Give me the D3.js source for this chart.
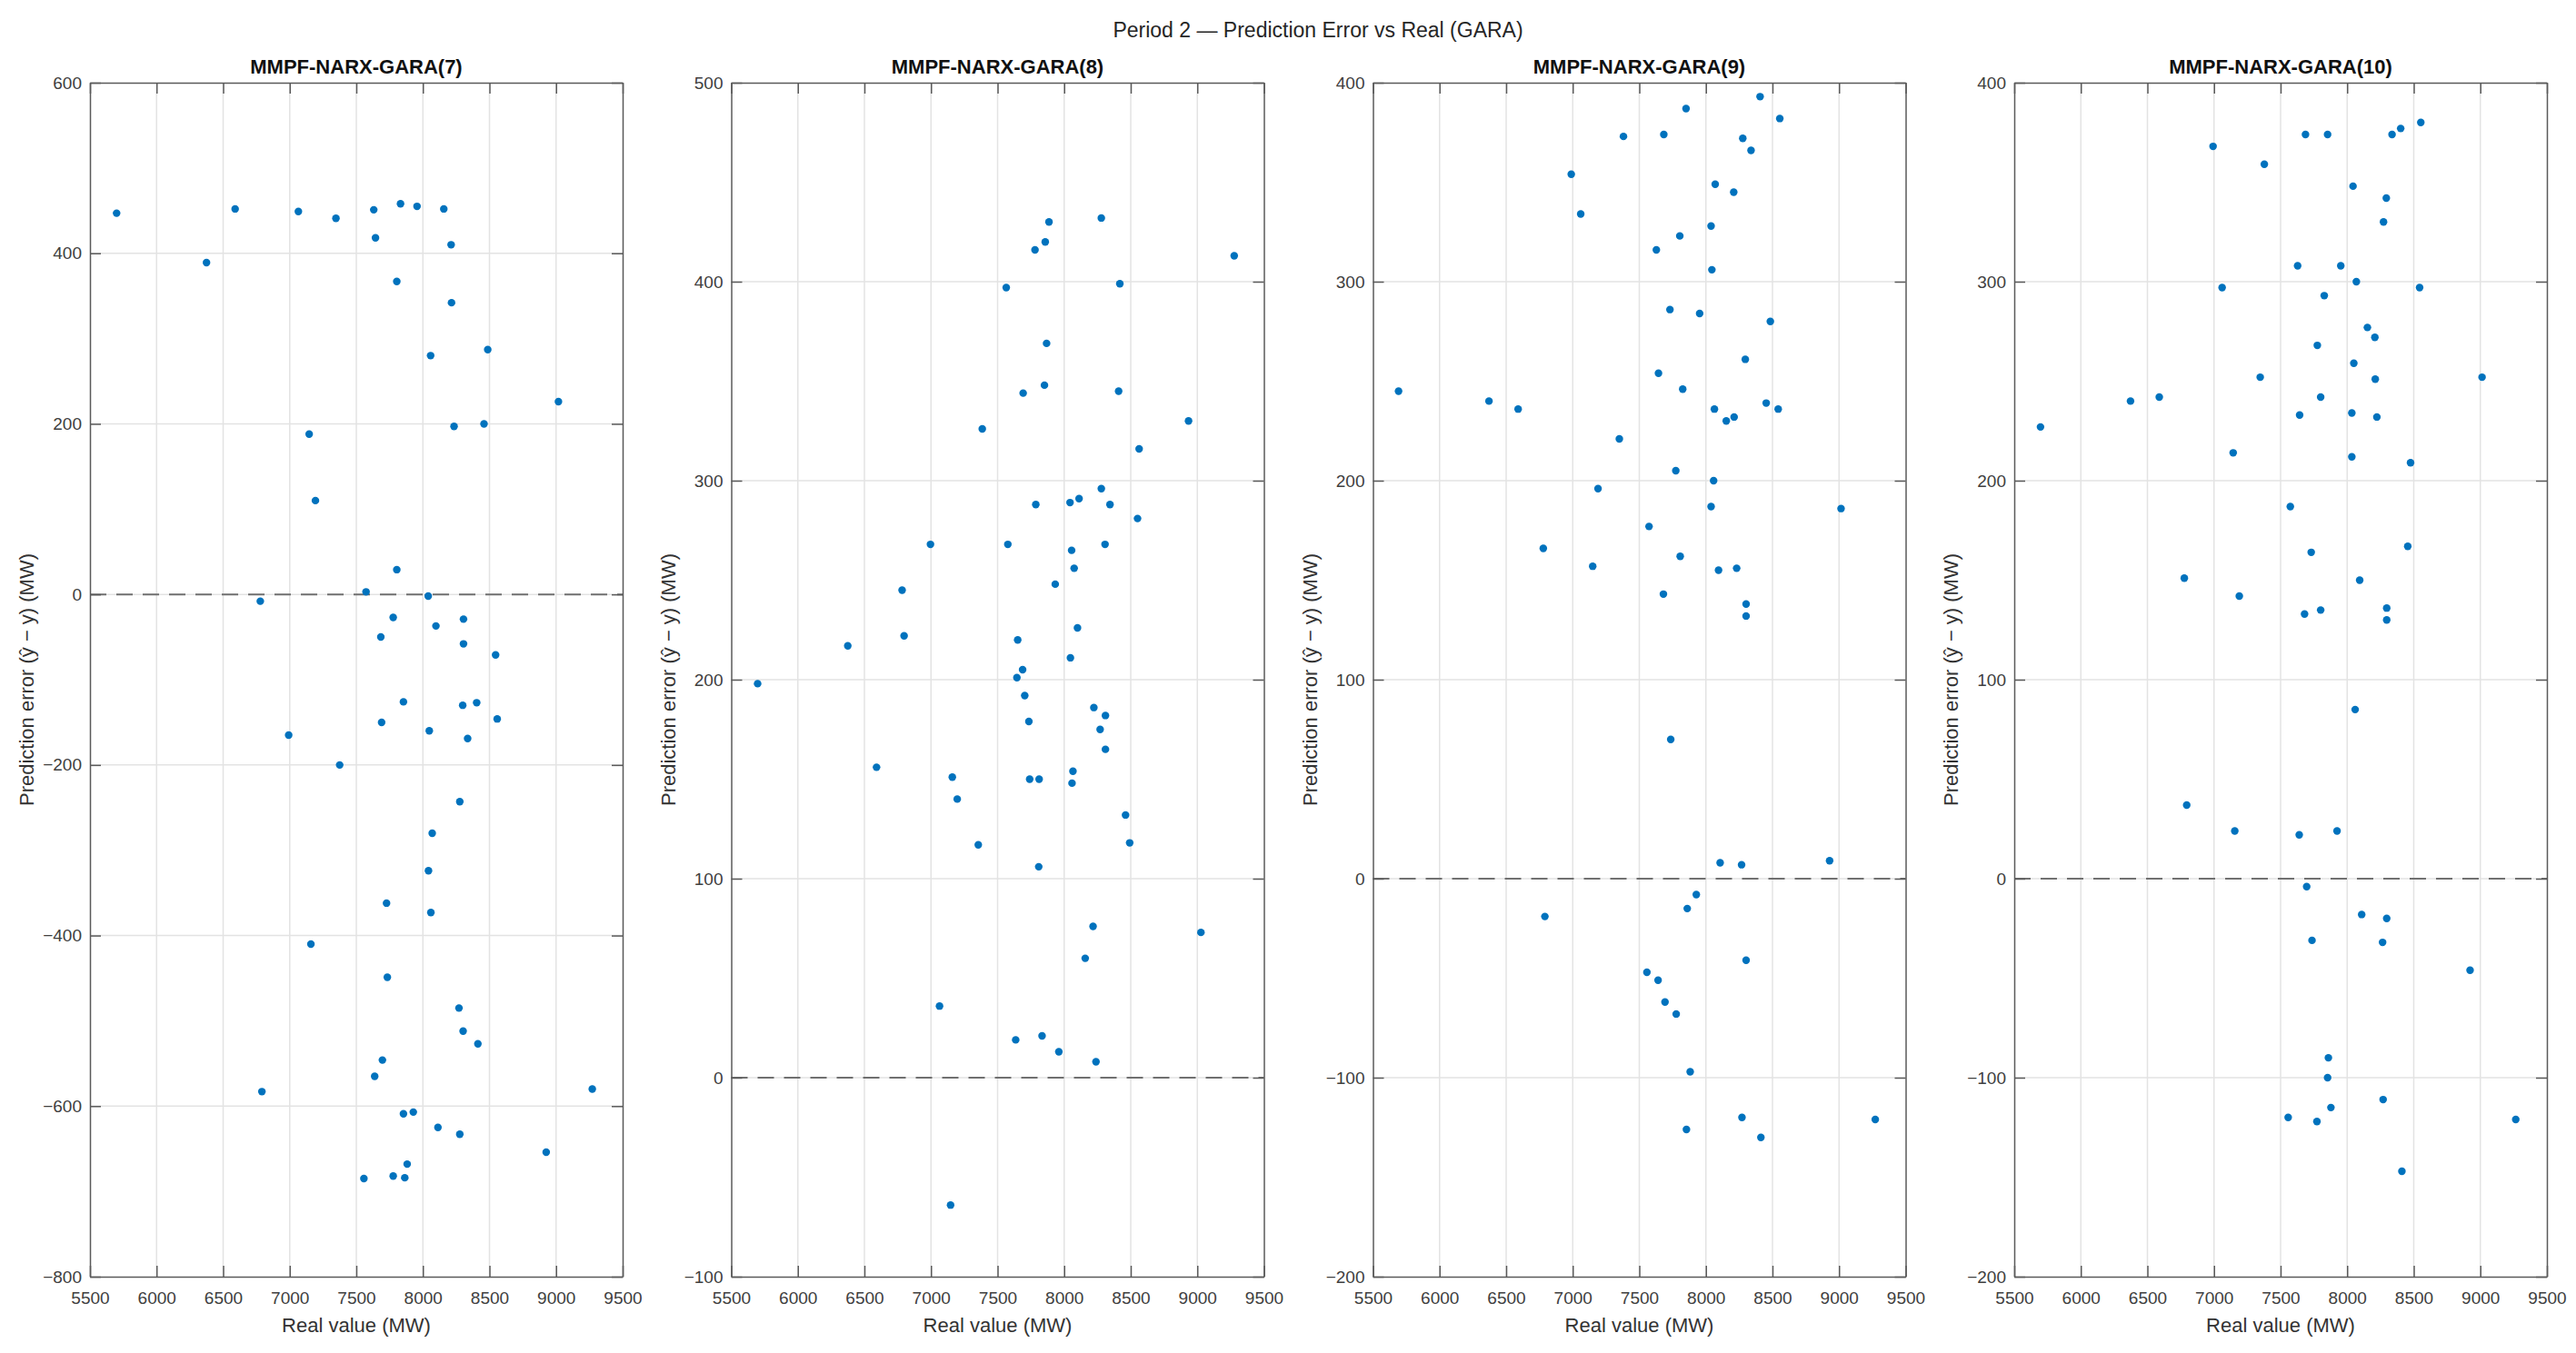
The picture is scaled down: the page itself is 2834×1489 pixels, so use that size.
<!DOCTYPE html>
<html><head><meta charset="utf-8">
<script src="https://cdn.jsdelivr.net/npm/d3@7"></script>
<style>body{margin:0;background:#fff}svg{display:block}</style>
</head><body>
<svg id="chart" width="2834" height="1489"></svg>
<script>
// ---------- data ----------
const figTitle = "Period 2 \u2014 Prediction Error vs Real (GARA)";
const panelTitles = ["MMPF-NARX-GARA(7)", "MMPF-NARX-GARA(8)", "MMPF-NARX-GARA(9)", "MMPF-NARX-GARA(10)"];
const xLabel = "Real value (MW)";
const yLabel = "Prediction error (\u0177 \u2212 y) (MW)";
const xTicks = [5500, 6000, 6500, 7000, 7500, 8000, 8500, 9000, 9500];
const yTicks7 = [-800, -600, -400, -200, 0, 200, 400, 600];
const yTicks8 = [-100, 0, 100, 200, 300, 400, 500];
const yTicks9 = [-200, -100, 0, 100, 200, 300, 400];
const yTicks10 = [-200, -100, 0, 100, 200, 300, 400];

const real7 = [5700,6375,6590,7065,7347,7631,7644,7832,7956,8157,8212,7804,8215,8058,8487,9018,7146,8234,8459,7193,7804,7573,6779,8040,7777,7684,8098,8305,8305,8546,
  7854,8299,8404,7690,8558,6992,8048,8336,7375,8277,8070,8042,7727,8060,7159,7733,8271,8302,8413,7696,7638,6791,9272,7854,7928,8113,8277,8926,7882,7777,7864,7557];
const err7 = [447,389,452,449,441,451,418,458,455,452,410,367,342,280,287,226,188,197,200,110,29,3,-8,-2,-27,-50,-37,-29,-58,-71,
  -126,-130,-127,-150,-146,-165,-160,-169,-200,-243,-280,-324,-362,-373,-410,-449,-485,-512,-527,-546,-565,-583,-580,-609,-607,-625,-633,-654,-668,-682,-684,-685];

const real8 = [7886,8279,7858,7781,9277,7565,8418,7868,7852,7692,8409,7385,8934,8563,8279,7787,8044,8112,8344,8551,6996,7577,8056,8307,8075,7933,6783,6798,6375,7651,8100,8047,5698,7645,7688,7704,8223,8310,7735,8270,8310,6591,7160,8066,7741,7812,8059,7197,8461,7355,8492,7809,8217,9027,8158,7064,7636,7834,7960,8239,7147];
const err8 = [430,432,420,416,413,397,399,369,348,344,345,326,330,316,296,288,289,291,288,281,268,268,265,268,256,248,245,222,217,220,226,211,198,201,205,192,186,182,179,175,165,156,151,154,150,150,148,140,132,117,118,106,76,73,60,36,19,21,13,8,-64];

const real9 = [8407,7851,8555,7381,7684,8277,8339,6989,8070,8209,7060,8039,7804,7628,8045,7730,7953,8484,8296,7644,5692,7826,6371,6590,8064,8453,8543,8153,8212,7350,7774,8058,7190,8039,9015,7573,6779,7807,7150,8095,8231,7681,8302,8302,
  7736,8107,8268,8929,7928,7860,6791,8302,7557,7641,7693,7777,7882,8271,7854,8413,9272];
const err9 = [393,387,382,373,374,372,366,354,349,345,334,328,323,316,306,286,284,280,261,254,245,246,240,236,236,239,236,230,232,221,205,200,196,187,186,177,166,162,157,155,156,143,138,132,
  70,8,7,9,-8,-15,-19,-41,-47,-51,-62,-68,-97,-120,-126,-130,-121];

const real10 = [8553,8402,8337,7687,7853,6993,7378,8044,8294,8273,7628,7952,8069,7061,8544,7828,8152,8208,7776,8050,7347,9013,8211,6373,6589,7801,7643,8035,8223,5697,7144,8035,8476,7573,7730,8455,6777,8094,7190,7680,7801,8297,8297,
  8060,6795,7156,7640,7924,7696,8109,8297,7736,8266,8923,7859,7853,7878,8270,7557,7773,9266,8411];
const err10 = [380,377,374,374,374,368,359,348,342,330,308,308,300,297,297,293,277,272,268,259,252,252,251,240,242,242,233,234,232,227,214,212,209,187,164,167,151,150,142,133,135,136,130,
  85,37,24,22,24,-4,-18,-20,-31,-32,-46,-90,-100,-115,-111,-120,-122,-121,-147];

const panels = [
  {title: panelTitles[0], real: real7, err: err7, yTicks: yTicks7},
  {title: panelTitles[1], real: real8, err: err8, yTicks: yTicks8},
  {title: panelTitles[2], real: real9, err: err9, yTicks: yTicks9},
  {title: panelTitles[3], real: real10, err: err10, yTicks: yTicks10}
];

// ---------- layout ----------
const svg = d3.select("#chart");
const FONT = "'Liberation Sans', Arial, Helvetica, sans-serif";
const plotTop = 91, plotBottom = 1405, pw = 586;
const lefts = [99, 804.5, 1510.5, 2216];
const tickLen = 12;

svg.append("text")
  .attr("x", 1450).attr("y", 41)
  .attr("text-anchor", "middle")
  .attr("font-family", FONT).attr("font-size", 23)
  .attr("fill", "#262626")
  .text(figTitle);

panels.forEach((p, i) => {
  const L = lefts[i];
  const x = d3.scaleLinear().domain([5500, 9500]).range([L, L + pw]);
  const yd = d3.extent(p.yTicks);
  const y = d3.scaleLinear().domain(yd).range([plotBottom, plotTop]);
  const g = svg.append("g");

  // grid
  g.append("g").selectAll("line").data(xTicks.slice(1, -1)).join("line")
    .attr("x1", d => x(d)).attr("x2", d => x(d)).attr("y1", plotTop).attr("y2", plotBottom)
    .attr("stroke", "#e3e3e3").attr("stroke-width", 1.5);
  g.append("g").selectAll("line").data(p.yTicks.slice(1, -1)).join("line")
    .attr("y1", d => y(d)).attr("y2", d => y(d)).attr("x1", L).attr("x2", L + pw)
    .attr("stroke", "#e3e3e3").attr("stroke-width", 1.5);

  // zero dashed line
  g.append("line")
    .attr("x1", L).attr("x2", L + pw).attr("y1", y(0)).attr("y2", y(0))
    .attr("stroke", "#707070").attr("stroke-width", 2)
    .attr("stroke-dasharray", "18,11");

  // points
  g.append("g").selectAll("circle").data(p.real.map((r, k) => [r, p.err[k]])).join("circle")
    .attr("cx", d => x(d[0])).attr("cy", d => y(d[1])).attr("r", 4.2)
    .attr("fill", "#0072BD");

  // axes
  const styleAxis = sel => {
    sel.selectAll(".domain").attr("stroke", "#5a5a5a").attr("stroke-width", 1.5);
    sel.selectAll(".tick line").attr("stroke", "#5a5a5a").attr("stroke-width", 1.5);
    sel.selectAll("text").attr("font-family", FONT).attr("font-size", 19).attr("fill", "#404040");
  };
  g.append("g").attr("transform", `translate(0,${plotBottom})`)
    .call(d3.axisBottom(x).tickValues(xTicks).tickFormat(d3.format("d")).tickSizeInner(-tickLen).tickSizeOuter(0).tickPadding(17))
    .call(styleAxis);
  g.append("g").attr("transform", `translate(0,${plotTop})`)
    .call(d3.axisTop(x).tickValues(xTicks).tickFormat("").tickSizeInner(-tickLen).tickSizeOuter(0))
    .call(styleAxis);
  g.append("g").attr("transform", `translate(${L},0)`)
    .call(d3.axisLeft(y).tickValues(p.yTicks).tickFormat(d3.format("d")).tickSizeInner(-tickLen).tickSizeOuter(0).tickPadding(9))
    .call(styleAxis);
  g.append("g").attr("transform", `translate(${L + pw},0)`)
    .call(d3.axisRight(y).tickValues(p.yTicks).tickFormat("").tickSizeInner(-tickLen).tickSizeOuter(0))
    .call(styleAxis);

  // titles & labels
  g.append("text")
    .attr("x", L + pw / 2).attr("y", 81)
    .attr("text-anchor", "middle")
    .attr("font-family", FONT).attr("font-size", 22).attr("font-weight", "bold")
    .attr("fill", "#111")
    .text(p.title);
  g.append("text")
    .attr("x", L + pw / 2).attr("y", 1466)
    .attr("text-anchor", "middle")
    .attr("font-family", FONT).attr("font-size", 22)
    .attr("fill", "#333")
    .text(xLabel);
  g.append("text")
    .attr("transform", `translate(${L - 62},${(plotTop + plotBottom) / 2}) rotate(-90)`)
    .attr("text-anchor", "middle")
    .attr("font-family", FONT).attr("font-size", 22)
    .attr("fill", "#333")
    .text(yLabel);
});
</script>
</body></html>
